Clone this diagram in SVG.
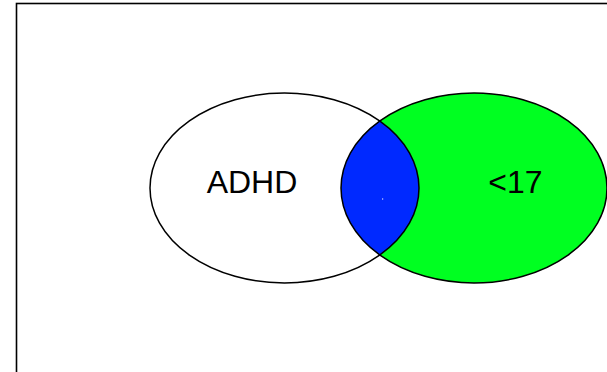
<svg xmlns="http://www.w3.org/2000/svg" width="607" height="372" viewBox="0 0 607 372">
  <style>
    .outline { fill: none; stroke: #000; stroke-width: 1.5; }
    .label { font-family: "Liberation Sans", Arial, sans-serif; font-size: 32px; fill: #000; text-anchor: middle; }
  </style>
  <defs>
    <clipPath id="clip-left">
      <ellipse cx="284.5" cy="188" rx="134.5" ry="95"/>
    </clipPath>
  </defs>
  <rect width="607" height="372" fill="#fff"/>
  <!-- frame -->
  <rect x="16.5" y="3.5" width="620" height="400" fill="none" stroke="#000" stroke-width="1.6"/>
  <g id="set-adhd">
    <ellipse cx="284.5" cy="188" rx="134.5" ry="95" fill="#fff"/>
  </g>
  <g id="set-under17">
    <ellipse cx="474" cy="188" rx="133" ry="95" fill="#00ff21"/>
  </g>
  <g id="overlap">
    <ellipse cx="474" cy="188" rx="133" ry="95" fill="#0029ff" clip-path="url(#clip-left)"/>
    <rect x="382" y="198.5" width="1.2" height="1" fill="#fff"/>
  </g>
  <g id="outlines">
    <ellipse class="outline" cx="284.5" cy="188" rx="134.5" ry="95"/>
    <ellipse class="outline" cx="474" cy="188" rx="133" ry="95"/>
  </g>
  <text class="label" x="252" y="193">ADHD</text>
  <text class="label" x="515.5" y="193">&lt;17</text>
</svg>
